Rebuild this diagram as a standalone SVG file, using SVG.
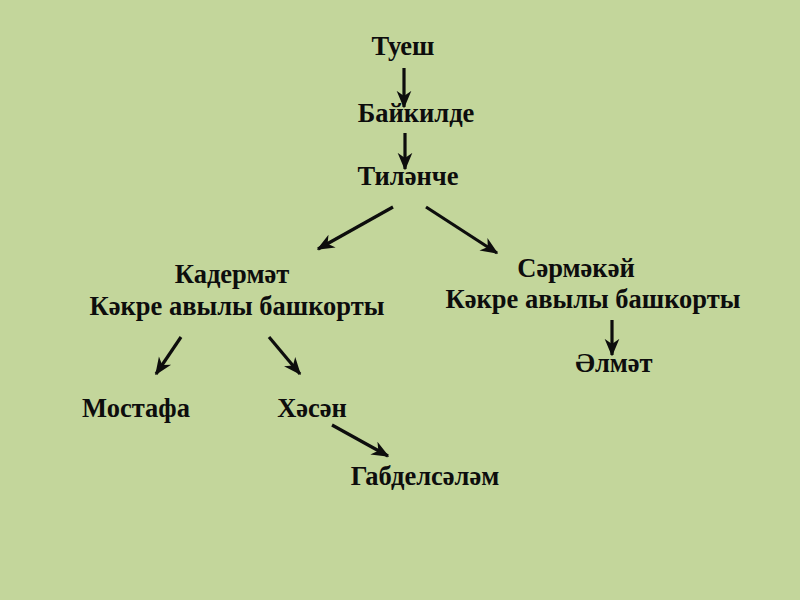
<svg xmlns="http://www.w3.org/2000/svg" width="800" height="600" viewBox="0 0 800 600">
<style>
text{font-family:"Liberation Serif","Times New Roman",serif;font-weight:bold;font-size:26.5px;fill:#0d0d0d;text-anchor:middle}
.c{stroke:#0d0d0d;stroke-width:3.2;fill:none;marker-end:url(#ah)}
</style>
<defs>
<marker id="ah" viewBox="0 0 12 10" refX="11" refY="5" markerWidth="5.5" markerHeight="5.5" markerUnits="strokeWidth" orient="auto">
<path d="M0,0 L12,5 L0,10 L3.5,5 Z" fill="#0d0d0d"/>
</marker>
</defs>
<rect width="800" height="600" fill="#c3d69b"/>
<g id="connectors">
<line class="c" x1="404" y1="68" x2="404" y2="107"/>
<line class="c" x1="405" y1="133" x2="405" y2="169"/>
<line class="c" x1="393" y1="207" x2="318" y2="249"/>
<line class="c" x1="426" y1="207" x2="497" y2="253"/>
<line class="c" x1="612" y1="320" x2="612" y2="355"/>
<line class="c" x1="181" y1="337" x2="156" y2="374"/>
<line class="c" x1="269" y1="337" x2="300" y2="374"/>
<line class="c" x1="332" y1="425" x2="388" y2="456"/>
</g>
<g id="n-tuesh"><text x="403" y="55">Туеш</text></g>
<g id="n-baykilde"><text x="416" y="122">Байкилде</text></g>
<g id="n-tilanche"><text x="408" y="185">Тиләнче</text></g>
<g id="n-kadermat"><text x="232" y="283">Кадермәт</text><text x="237" y="315">Кәкре авылы башкорты</text></g>
<g id="n-sarmakay"><text x="576" y="277">Сәрмәкәй</text><text x="593" y="308">Кәкре авылы башкорты</text></g>
<g id="n-almat"><text x="614" y="372">Әлмәт</text></g>
<g id="n-mostafa"><text x="136" y="417">Мостафа</text></g>
<g id="n-hasan"><text x="312" y="417">Хәсән</text></g>
<g id="n-gabdelsalam"><text x="425" y="485">Габделсәләм</text></g>
</svg>
